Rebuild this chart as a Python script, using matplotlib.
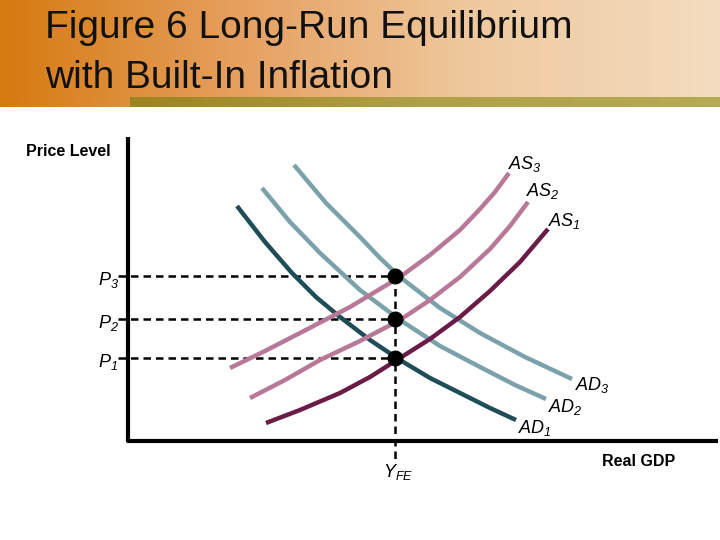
import numpy as np
import matplotlib.pyplot as plt
from matplotlib.colors import LinearSegmentedColormap

plt.rcParams['font.family'] = ['Liberation Sans', 'DejaVu Sans']
plt.rcParams['mathtext.fontset'] = 'custom'
plt.rcParams['mathtext.it'] = 'Liberation Sans:italic'
plt.rcParams['mathtext.rm'] = 'Liberation Sans:italic'

# Curves (pixel-like diagram units, y grows downward)
ad1_x = [237, 265, 292, 316, 340, 370, 400, 430, 460, 490, 516]
ad1_y = [206, 242, 273, 297, 317, 340, 360, 378, 393, 408, 420]
ad2_x = [262, 290, 320, 360, 400, 440, 480, 515, 546]
ad2_y = [188, 222, 253, 290, 320, 346, 367, 385, 399]
ad3_x = [294, 326, 360, 380, 400, 440, 480, 525, 572]
ad3_y = [165, 203, 237, 258, 277, 308, 333, 357, 379]
as1_x = [266, 300, 340, 370, 400, 430, 460, 490, 520, 548]
as1_y = [423, 410, 393, 377, 358, 339, 317, 291, 262, 229]
as2_x = [250, 285, 320, 360, 400, 430, 460, 490, 510, 528]
as2_y = [398, 380, 360, 341, 320, 300, 277, 249, 226, 202]
as3_x = [230, 265, 300, 350, 400, 430, 460, 480, 495, 509]
as3_y = [368, 351, 333, 307, 277, 255, 230, 209, 192, 173]

price_levels = [358, 319, 276]
price_labels = ['$P_1$', '$P_2$', '$P_3$']
y_fe = 395

fig = plt.figure(figsize=(7.2, 5.4), dpi=100)
ax = fig.add_axes([0, 0, 1, 1])
ax.set_xlim(0, 720)
ax.set_ylim(540, 0)
ax.axis('off')

# header gradient
orange = LinearSegmentedColormap.from_list('o', ['#d67a10', '#e6a060', '#efcaa0', '#f3dcc0'])
olive = LinearSegmentedColormap.from_list('g', ['#9c8420', '#b0a048', '#b5aa55'])
grad = np.linspace(0, 1, 256).reshape(1, -1)
ax.imshow(grad, cmap=orange, extent=[0, 720, 97, 0], aspect='auto', zorder=0)
ax.imshow(grad, cmap=olive, extent=[130, 720, 107, 97], aspect='auto', zorder=0)
ax.imshow(grad, cmap=orange, extent=[0, 130, 107, 97], aspect='auto', zorder=0,
          vmin=0, vmax=5.5)
ax.text(45, 28, 'Figure 6 Long-Run Equilibrium', fontsize=28, va='center', color='#111111')
ax.text(45, 78, 'with Built-In Inflation', fontsize=28, va='center', color='#111111')

# axes
ax.plot([128, 128, 718], [137, 441, 441], color='black', lw=3, solid_capstyle='butt')

# dashed guides
for p, lab in zip(price_levels, price_labels):
    ax.plot([118, y_fe], [p, p], color='black', lw=1.8, ls=(0, (3, 2)))
    ax.text(98, p + 4, lab, fontsize=13, va='center', ha='left')
ax.plot([y_fe, y_fe], [price_levels[2], 461], color='black', lw=1.8, ls=(0, (3, 2)))

c_ad1, c_ad = '#1e4d57', '#7ba2aa'
c_as1, c_as = '#6a1c47', '#b87897'
ax.plot(ad1_x, ad1_y, color=c_ad1, lw=3.2, solid_capstyle='butt')
ax.plot(ad2_x, ad2_y, color=c_ad, lw=3.2, solid_capstyle='butt')
ax.plot(ad3_x, ad3_y, color=c_ad, lw=3.2, solid_capstyle='butt')
ax.plot(as1_x, as1_y, color=c_as1, lw=3.2, solid_capstyle='butt')
ax.plot(as2_x, as2_y, color=c_as, lw=3.2, solid_capstyle='butt')
ax.plot(as3_x, as3_y, color=c_as, lw=3.2, solid_capstyle='butt')

ax.scatter([y_fe] * 3, price_levels, s=110, color='black', zorder=5)

for x, y, lab in [(508, 164, '$AS_3$'), (526, 191, '$AS_2$'), (548, 221, '$AS_1$'),
                  (575, 385, '$AD_3$'), (548, 407, '$AD_2$'), (518, 428, '$AD_1$')]:
    ax.text(x, y, lab, fontsize=13, va='center', ha='left')

ax.text(26, 152, 'Price Level', fontsize=11.5, fontweight='bold', va='center')
ax.text(602, 462, 'Real GDP', fontsize=11.5, fontweight='bold', va='center')
ax.text(383, 472, '$Y_{FE}$', fontsize=13, va='center')

fig.savefig('out.png', dpi=100)
